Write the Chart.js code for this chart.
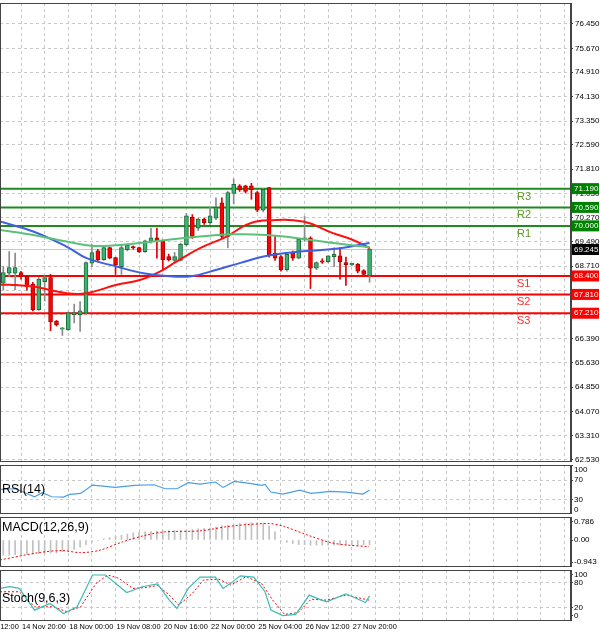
<!DOCTYPE html>
<html><head><meta charset="utf-8">
<script src="https://cdn.jsdelivr.net/npm/chart.js@4.4.0/dist/chart.umd.min.js"></script>
<style>
body{margin:0;background:#fff;width:600px;height:637px;position:relative;overflow:hidden;font-family:"Liberation Sans",Arial,sans-serif}
canvas{position:absolute;left:0}
.tl{position:absolute;top:622px;font-size:7.4px;color:#000;white-space:nowrap}
.pl{position:absolute;left:2px;font-size:12.5px;color:#000}
</style></head><body>
<canvas id="main" style="top:3px"></canvas>
<canvas id="rsi" style="top:465px"></canvas>
<canvas id="macd" style="top:517px"></canvas>
<canvas id="stoch" style="top:570px"></canvas>
<div class="pl" style="top:482px">RSI(14)</div>
<div class="pl" style="top:520px">MACD(12,26,9)</div>
<div class="pl" style="top:591px">Stoch(9,6,3)</div>
<script>
const opens =[68.17,68.49,68.49,68.49,68.38,68.12,67.32,68.22,68.33,66.94,66.7,66.68,67.16,67.16,67.21,68.81,69.18,68.92,69.29,68.97,68.7,69.24,69.32,69.29,69.18,69.5,69.6,69.5,69.0,68.9,68.9,69.4,70.25,69.93,70.2,70.1,70.25,70.72,69.66,71.04,71.26,71.26,71.26,71.04,70.5,71.2,69.1,69.0,68.6,69.13,68.97,69.55,69.6,68.65,68.86,68.86,69.02,69.02,68.81,68.76,68.76,68.55,68.4];
const closes=[68.49,68.65,68.65,68.38,68.06,67.32,68.28,68.33,66.94,66.84,66.72,67.21,67.21,67.27,68.81,69.13,68.92,69.29,68.97,68.76,69.29,69.36,69.30,69.18,69.5,69.6,69.5,68.92,68.92,69.0,69.4,70.3,69.66,70.2,70.1,70.3,70.57,69.66,71.04,71.31,71.15,71.1,71.15,70.5,71.15,69.07,68.97,68.6,69.07,68.97,69.55,69.6,68.65,68.81,68.84,69.02,69.07,68.86,68.76,68.78,68.55,68.45,69.24];
const highs =[68.7,69.18,69.13,68.55,68.42,68.2,68.35,68.4,68.45,66.98,66.76,67.25,67.5,67.58,68.85,69.4,69.25,69.32,69.32,69.0,69.4,69.42,69.36,69.32,69.55,69.93,69.93,69.55,69.1,69.15,69.45,70.4,70.36,70.25,70.25,70.6,70.9,70.9,71.1,71.5,71.32,71.3,71.36,71.1,71.2,71.22,69.7,69.05,69.1,69.2,69.6,70.3,69.65,68.85,68.95,69.05,69.3,69.3,69.0,68.8,68.8,68.6,69.28];
const lows  =[67.95,68.38,67.96,68.3,67.95,67.28,67.3,67.6,66.65,66.8,66.5,66.66,66.9,66.63,67.2,68.7,68.85,68.9,68.95,68.45,68.45,69.2,69.25,69.15,69.15,69.45,68.97,68.6,68.88,68.85,68.88,69.35,69.6,69.85,70.05,70.05,70.2,69.6,69.3,70.7,71.1,71.05,70.85,70.45,70.45,69.0,68.9,68.55,68.55,68.9,68.95,69.5,68.0,68.6,68.8,68.82,68.7,68.3,68.1,68.72,68.5,68.4,68.2];
const maRed  =[[-0.56,68.12],[1.1,68.12],[5.07,68.06],[10.7,67.85],[14.1,67.85],[19.2,68.12],[23.1,68.27],[26.5,68.54],[29.3,68.86],[33.3,69.29],[37.8,69.66],[41.1,70.03],[44,70.17],[50.7,70.14],[55.8,69.77],[59.2,69.55],[62,69.29]];
const maBlue =[[-0.56,70.14],[5.07,69.82],[10.7,69.34],[14.1,68.97],[19.2,68.7],[23.7,68.49],[28.7,68.38],[32.1,68.40],[36.1,68.6],[40,68.81],[44.5,69.04],[50.2,69.18],[55.8,69.26],[62,69.45]];
const maGreen=[[-0.56,69.87],[5.07,69.71],[10.7,69.5],[15.2,69.36],[22,69.43],[27.6,69.55],[33.3,69.66],[38.9,69.73],[44.5,69.71],[50.2,69.6],[55.8,69.45],[62,69.32]];
const resist=[71.19,70.59,70.00], support=[68.40,67.81,67.21], resLab=["R3","R2","R1"], supLab=["S1","S2","S3"];
const lastPrice=69.245;
const priceTicks=[76.45,75.67,74.91,74.13,73.35,72.59,71.81,71.03,70.27,69.49,68.71,67.95,67.17,66.39,65.63,64.85,64.07,63.31,62.53];
const rsiTicks=[100,70,30,0], macdTicks=[0.786,0,-0.943], stochTicks=[100,80,20,0];
const rsi=[[-0.56,50.7],[2.04,52],[5.3,35.5],[6.6,43.8],[8.2,35.5],[10.2,34.8],[11.2,40.3],[13.1,42.4],[15.1,59.7],[19,54.8],[22.2,59],[25.5,60.3],[27.4,52],[29.4,52],[31.3,64.5],[33.3,61.7],[35.9,65.9],[37.2,54.8],[39.1,67.2],[41.7,63.1],[43.7,59],[44.3,61],[45.3,45.2],[47.3,41],[50.2,49.3],[52.1,42.4],[55.4,46.6],[58,45.2],[60.9,41],[62,49.3]];
const macdHist=[-0.65,-0.65,-0.63,-0.62,-0.6,-0.6,-0.58,-0.58,-0.55,-0.55,-0.5,-0.45,-0.4,-0.3,-0.2,-0.1,-0.02,0.05,0.1,0.15,0.2,0.25,0.3,0.33,0.35,0.37,0.38,0.4,0.4,0.4,0.4,0.42,0.45,0.48,0.5,0.52,0.55,0.6,0.63,0.66,0.7,0.72,0.74,0.74,0.72,0.6,0.35,-0.05,-0.1,-0.15,-0.2,-0.2,-0.22,-0.22,-0.22,-0.22,-0.22,-0.22,-0.22,-0.22,-0.22,-0.2,-0.2];
const macdSig=[[-0.56,-0.85],[5.95,-0.54],[9.85,-0.45],[13.1,-0.54],[16.4,-0.43],[20.3,-0.07],[24.2,0.21],[27.4,0.35],[33.3,0.39],[38.5,0.59],[45,0.70],[47.6,0.57],[51.5,0.21],[55.4,-0.11],[58,-0.21],[61.9,-0.28]];
const stMain=[[-0.56,66],[1.07,70],[2.7,66],[5.3,14],[7.9,30],[10.2,6],[12.5,22],[15.1,98],[17.3,98],[20.9,56],[23.5,70],[26.1,77],[28.1,38],[29.4,18],[31.3,66],[33.3,93],[35.9,93],[37.2,66],[38.5,78],[40.1,96],[42.4,93],[44.3,58],[45.3,14],[47.3,1],[49.5,4],[51.8,50],[52.8,44],[54.7,34],[58,53],[61.3,32],[62,48]];
const stSig=[[-0.56,58],[2.7,58],[5.3,22],[8.5,22],[10.8,10],[13.1,22],[15.7,78],[17.7,98],[19.6,90],[21.9,66],[24.2,68],[26.1,73],[28.1,50],[29.7,26],[32,54],[33.9,86],[36.5,88],[38.5,74],[41.1,94],[43.7,78],[45.6,38],[47.6,4],[49.9,8],[52.1,40],[54.7,38],[58,50],[61.9,38]];
const timeLabels=[[-5,"13 Nov 12:00"],[3,"14 Nov 20:00"],[11,"18 Nov 00:00"],[19,"19 Nov 08:00"],[27,"20 Nov 16:00"],[35,"22 Nov 00:00"],[43,"25 Nov 04:00"],[51,"26 Nov 12:00"],[59,"27 Nov 20:00"]];

const XMIN=-0.56, XMAX=96.1;
const pts=a=>a.map(p=>({x:p[0],y:p[1]}));
const frame={id:'frame',afterDraw(c){const a=c.chartArea,x=c.ctx;x.save();x.strokeStyle='#444';x.lineWidth=1;x.strokeRect(a.left+0.5,a.top+0.5,a.right-a.left-1,a.bottom-a.top-1);x.restore();}};
// clamped tick labels for small panes
const paneLabels={id:'paneLabels',afterDraw(c,args,o){const y=c.scales.y,x=c.ctx,a=c.chartArea;x.save();x.font='8px Liberation Sans';x.fillStyle='#000';x.textBaseline='middle';
  o.ticks.forEach(v=>{let py=y.getPixelForValue(v);py=Math.max(a.top+5,Math.min(a.bottom-4,py));x.fillText(o.fmt(v),574,py);});x.restore();}};
function baseOpts(min,max,ticks,fmt,gridVals,showLabels){
  return {responsive:false,animation:false,devicePixelRatio:1,layout:{padding:0},
    plugins:{legend:{display:false},tooltip:{enabled:false},paneLabels:{ticks:ticks,fmt:fmt}},
    scales:{
      x:{type:'linear',min:XMIN,max:XMAX,display:true,offset:false,ticks:{display:false},
        afterBuildTicks:s=>{const t=[];for(let i=-1;i<=XMAX;i+=4)t.push({value:i});s.ticks=t;},
        afterFit:s=>{s.height=0;s.paddingLeft=0;s.paddingRight=0;s.paddingTop=0;s.paddingBottom=0;},
        grid:{color:'#c8c8c8',drawTicks:false,lineWidth:1,offset:false},border:{display:false,dash:[3,3]}},
      y:{position:'right',min:min,max:max,
        afterBuildTicks:s=>{s.ticks=ticks.map(v=>({value:v}));},
        afterFit:s=>{s.width=29;s.paddingTop=0;s.paddingBottom=0;},
        ticks:{display:showLabels,color:'#000',font:{size:8,family:'Liberation Sans'},padding:2,callback:fmt,autoSkip:false,maxRotation:0},
        grid:{color:c=>gridVals.includes(c.tick&&c.tick.value)?'#c8c8c8':'rgba(0,0,0,0)',drawTicks:true,tickLength:2,tickColor:'#444'},
        border:{display:true,color:'#444',dash:[3,3]}}}};
}
function mk(id,h,cfg){const el=document.getElementById(id);el.width=600;el.height=h;el.style.width='600px';el.style.height=h+'px';return new Chart(el,cfg);}

const up=closes.map((c,i)=>c>=opens[i]);
const levelPlugin={id:'levels',afterDatasetsDraw(c){
  const y=c.scales.y,x=c.ctx;x.save();x.font='8px Liberation Sans';x.textBaseline='middle';
  const box=(v,bg)=>{const py=y.getPixelForValue(v);x.fillStyle=bg;x.fillRect(572,py-5.5,27,11);x.fillStyle='#fff';x.fillText(v.toFixed(3),574,py);};
  resist.forEach(v=>box(v,'#008000'));support.forEach(v=>box(v,'#ff0000'));box(lastPrice,'#000');
  x.font='11px Liberation Sans';x.textBaseline='middle';
  resist.forEach((v,i)=>{x.fillStyle='#5f9a2a';x.fillText(resLab[i],517,y.getPixelForValue(v)+8);});
  support.forEach((v,i)=>{x.fillStyle='#ff3030';x.fillText(supLab[i],517,y.getPixelForValue(v)+8);});
  x.restore();}};
const hline=(v,col,w)=>({type:'line',data:[{x:XMIN,y:v},{x:XMAX,y:v}],borderColor:col,borderWidth:w,pointRadius:0,order:5});
const mainCfg={type:'bar',data:{datasets:[
  hline(lastPrice,'#c8c8c8',1),
  ...resist.map(v=>hline(v,'#1f8a1f',2)),...support.map(v=>hline(v,'#ff0000',2)),
  {type:'bar',data:highs.map((h,i)=>({x:i,y:[lows[i],h]})),backgroundColor:up.map(u=>u?'#8a8a8a':'#e00000'),barThickness:1,grouped:false,order:3},
  {type:'bar',data:opens.map((o,i)=>({x:i,y:[Math.min(o,closes[i]),Math.max(o,closes[i])+0.02]})),backgroundColor:up.map(u=>u?'#3cb371':'#ff0000'),borderColor:up.map(u=>u?'#1e6b3a':'#b00000'),borderWidth:1,borderSkipped:false,barThickness:4,grouped:false,order:2},
  {type:'line',data:pts(maGreen),borderColor:'#5cc07a',borderWidth:2,pointRadius:0,tension:0.4,order:1},
  {type:'line',data:pts(maBlue),borderColor:'#4060e0',borderWidth:2,pointRadius:0,tension:0.4,order:1},
  {type:'line',data:pts(maRed),borderColor:'#ff1010',borderWidth:2,pointRadius:0,tension:0.4,order:1}
]},options:baseOpts(62.457,77.12,priceTicks,v=>v===67.95?'':v.toFixed(3),priceTicks,true),plugins:[frame,levelPlugin]};
mk('main',459,mainCfg);

mk('rsi',49,{type:'line',data:{datasets:[{data:pts(rsi),borderColor:'#4a9ee8',borderWidth:1.2,pointRadius:0}]},
  options:baseOpts(0,101,rsiTicks,v=>String(v),[70,30],false),plugins:[frame,paneLabels]});

mk('macd',50,{type:'bar',data:{datasets:[
  {type:'bar',data:macdHist.map((v,i)=>({x:i,y:v})),backgroundColor:'#c0c0c0',barThickness:1,order:2},
  {type:'line',data:pts(macdSig),borderColor:'#ff0000',borderWidth:1,borderDash:[2,2],pointRadius:0,tension:0.3,order:1}]},
  options:baseOpts(-1.15,0.98,macdTicks,v=>v===0?'0.00':v.toFixed(3),[],false),plugins:[frame,paneLabels]});

const st=mk('stoch',51,{type:'line',data:{datasets:[
  {data:pts(stMain),borderColor:'#3cbcb4',borderWidth:1.2,pointRadius:0},
  {data:pts(stSig),borderColor:'#ff0000',borderWidth:1,borderDash:[2,2],pointRadius:0}]},
  options:baseOpts(-12,110,stochTicks,v=>String(v),[80,20],false),plugins:[frame,paneLabels]});

const sx=st.scales.x;
timeLabels.forEach(([i,t])=>{const d=document.createElement('div');d.className='tl';d.textContent=t;d.style.left=(sx.getPixelForValue(i)+1)+'px';document.body.appendChild(d);});
</script></body></html>
